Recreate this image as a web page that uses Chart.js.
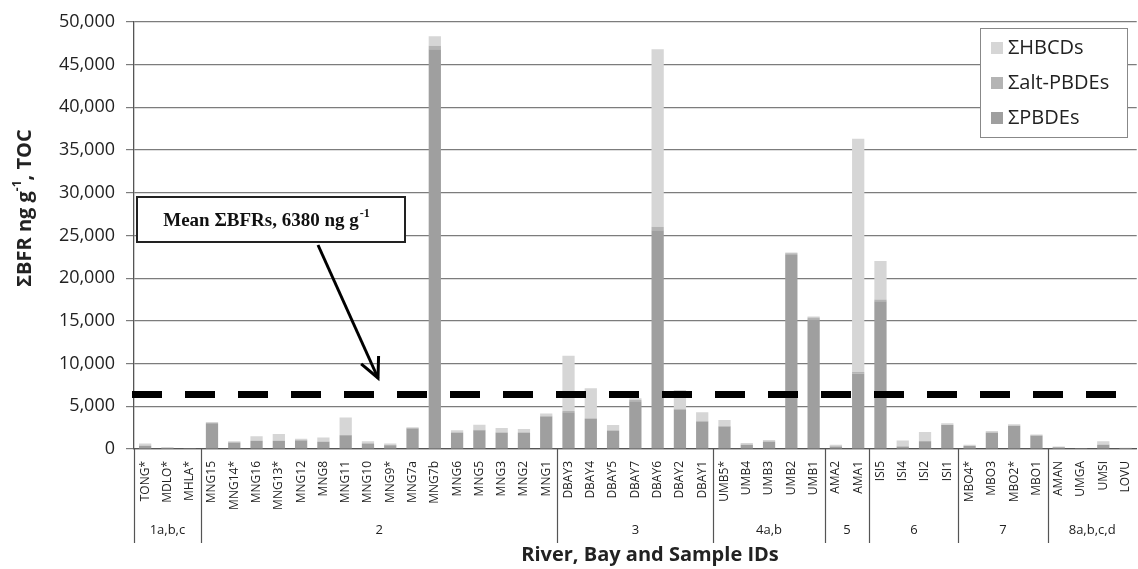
<!DOCTYPE html>
<html>
<head>
<meta charset="utf-8">
<script src="https://cdn.jsdelivr.net/npm/chart.js@4/dist/chart.umd.min.js"></script>
<style>
  html, body { margin: 0; padding: 0; background: #fff; overflow: hidden; }
  #wrap { width: 1144px; height: 569px; }
</style>
</head>
<body>
<div id="wrap"><canvas id="c" width="1144" height="569"></canvas></div>
<script>
// Sample IDs along the river / bay transects
const sampleIds = [
  'TONG*', 'MDLO*', 'MHLA*',
  'MNG15', 'MNG14*', 'MNG16', 'MNG13*', 'MNG12', 'MNG8', 'MNG11', 'MNG10', 'MNG9*',
  'MNG7a', 'MNG7b', 'MNG6', 'MNG5', 'MNG3', 'MNG2', 'MNG1',
  'DBAY3', 'DBAY4', 'DBAY5', 'DBAY7', 'DBAY6', 'DBAY2', 'DBAY1',
  'UMB5*', 'UMB4', 'UMB3', 'UMB2', 'UMB1',
  'AMA2', 'AMA1',
  'ISI5', 'ISI4', 'ISI2', 'ISI1',
  'MBO4*', 'MBO3', 'MBO2*', 'MBO1',
  'AMAN', 'UMGA', 'UMSI', 'LOVU'
];

// ΣPBDEs, ng g-1 TOC
const sumPBDEs = [
  380, 150, 80,
  3000, 750, 950, 950, 1000, 850, 1600, 650, 450,
  2400, 46800, 1900, 2200, 1900, 1900, 3800,
  4300, 3500, 2100, 5600, 25600, 4600, 3200,
  2600, 500, 850, 22700, 15200,
  300, 8800,
  17300, 300, 900, 2800,
  350, 1900, 2700, 1550,
  200, 70, 500, 100
];

// Σalt-PBDEs, ng g-1 TOC
const sumAltPBDEs = [
  20, 10, 0,
  50, 30, 50, 50, 40, 40, 50, 30, 20,
  50, 400, 50, 50, 50, 50, 100,
  150, 100, 100, 150, 400, 100, 100,
  100, 30, 50, 200, 200,
  20, 200,
  200, 20, 50, 50,
  20, 50, 50, 50,
  10, 10, 20, 10
];

// ΣHBCDs, ng g-1 TOC
const sumHBCDs = [
  250, 40, 20,
  100, 120, 500, 750, 160, 460, 2050, 220, 180,
  100, 1100, 250, 600, 500, 400, 250,
  6450, 3500, 600, 200, 20800, 2200, 1000,
  700, 170, 150, 100, 100,
  180, 27300,
  4500, 680, 1050, 150,
  130, 150, 150, 100,
  90, 20, 380, 40
];

// River / bay groups: label and index of first sample
const groupNames = ['1a,b,c', '2', '3', '4a,b', '5', '6', '7', '8a,b,c,d'];
const groupStarts = [0, 3, 19, 26, 31, 33, 37, 41];

const yTickValues = [0, 5000, 10000, 15000, 20000, 25000, 30000, 35000, 40000, 45000, 50000];
const meanBFR = 6380;

const FONT = 'Open Sans';

const decor = {
  id: 'decor',
  afterDatasetsDraw(chart) {
    const { ctx, chartArea, scales } = chart;
    const xs = scales.x, ys = scales.y;
    const n = sampleIds.length;
    const step = (chartArea.right - chartArea.left) / n;

    ctx.save();

    // mean ΣBFR line
    const ym = ys.getPixelForValue(meanBFR);
    ctx.strokeStyle = '#000';
    ctx.lineWidth = 7;
    ctx.setLineDash([30, 23]);
    ctx.beginPath();
    ctx.moveTo(chartArea.left - 2, ym);
    ctx.lineTo(chartArea.right, ym);
    ctx.stroke();
    ctx.setLineDash([]);

    // group separators below the axis
    ctx.strokeStyle = '#555';
    ctx.lineWidth = 1.2;
    groupStarts.forEach((s) => {
      const x = s === 0 ? chartArea.left : (xs.getPixelForValue(s - 1) + xs.getPixelForValue(s)) / 2;
      ctx.beginPath();
      ctx.moveTo(Math.round(x) + 0.5, chartArea.bottom);
      ctx.lineTo(Math.round(x) + 0.5, 543);
      ctx.stroke();
    });

    // group labels
    ctx.fillStyle = '#222';
    ctx.font = `13px "${FONT}"`;
    ctx.textAlign = 'center';
    ctx.textBaseline = 'middle';
    groupNames.forEach((g, i) => {
      const a = groupStarts[i];
      const b = i + 1 < groupStarts.length ? groupStarts[i + 1] : n;
      const x0 = chartArea.left + a * step;
      const x1 = chartArea.left + b * step;
      ctx.fillText(g, (x0 + x1) / 2, 530);
    });

    // x axis title
    ctx.font = `bold 20px "${FONT}"`;
    ctx.fillStyle = '#222';
    ctx.fillText('River, Bay and Sample IDs', 650, 555);

    // y axis title with superscript
    ctx.save();
    ctx.translate(25, 208);
    ctx.rotate(-Math.PI / 2);
    const mainFont = `bold 20px "${FONT}"`;
    const supFont = `bold 12px "${FONT}"`;
    const p1 = 'ΣBFR ng g', p2 = '-1', p3 = ', TOC';
    ctx.font = mainFont; const w1 = ctx.measureText(p1).width; const w3 = ctx.measureText(p3).width;
    ctx.font = supFont; const w2 = ctx.measureText(p2).width;
    let tx = -(w1 + w2 + w3) / 2;
    ctx.textAlign = 'left';
    ctx.textBaseline = 'middle';
    ctx.font = mainFont; ctx.fillText(p1, tx, 0); tx += w1;
    ctx.font = supFont; ctx.fillText(p2, tx, -7); tx += w2;
    ctx.font = mainFont; ctx.fillText(p3, tx, 0);
    ctx.restore();

    // annotation box
    ctx.fillStyle = '#fff';
    ctx.fillRect(137, 197, 268, 45);
    ctx.strokeStyle = '#222';
    ctx.lineWidth = 2;
    ctx.strokeRect(137, 197, 268, 45);
    ctx.fillStyle = '#111';
    ctx.textBaseline = 'middle';
    ctx.textAlign = 'left';
    const aMain = 'Mean ΣBFRs, ' + meanBFR + ' ng g';
    ctx.font = 'bold 19px "Liberation Serif"';
    const aw = ctx.measureText(aMain).width;
    ctx.font = 'bold 12px "Liberation Serif"';
    const asw = ctx.measureText('-1').width;
    const ax = 266 - (aw + asw) / 2;
    ctx.font = 'bold 19px "Liberation Serif"';
    ctx.fillText(aMain, ax, 221);
    ctx.font = 'bold 12px "Liberation Serif"';
    ctx.fillText('-1', ax + aw + 1, 214);

    // arrow from the box to the mean line
    const ax0 = 318, ay0 = 245, ax1 = 378, ay1 = 378;
    ctx.strokeStyle = '#000';
    ctx.lineWidth = 3;
    ctx.beginPath();
    ctx.moveTo(ax0, ay0);
    ctx.lineTo(ax1, ay1);
    ctx.stroke();
    const ang = Math.atan2(ay1 - ay0, ax1 - ax0);
    const hl = 22;
    ctx.beginPath();
    ctx.moveTo(ax1 - hl * Math.cos(ang - 0.45), ay1 - hl * Math.sin(ang - 0.45));
    ctx.lineTo(ax1, ay1);
    ctx.lineTo(ax1 - hl * Math.cos(ang + 0.45), ay1 - hl * Math.sin(ang + 0.45));
    ctx.stroke();

    // legend
    const lx = 980, ly = 28, lw = 147, lh = 109;
    ctx.fillStyle = '#fff';
    ctx.fillRect(lx, ly, lw, lh);
    ctx.strokeStyle = '#888';
    ctx.lineWidth = 1;
    ctx.strokeRect(lx + 0.5, ly + 0.5, lw, lh);
    const order = [2, 1, 0];
    ctx.font = `20px "${FONT}"`;
    ctx.textAlign = 'left';
    ctx.textBaseline = 'middle';
    order.forEach((di, k) => {
      const ds = chart.data.datasets[di];
      const cy = 48 + k * 35;
      ctx.fillStyle = ds.backgroundColor;
      ctx.fillRect(991, cy - 6, 12, 12);
      ctx.fillStyle = '#222';
      ctx.fillText(ds.label, 1008, cy);
    });

    ctx.restore();
  }
};

new Chart(document.getElementById('c'), {
  type: 'bar',
  data: {
    labels: sampleIds,
    datasets: [
      { label: 'ΣPBDEs', data: sumPBDEs, backgroundColor: '#9f9f9f' },
      { label: 'Σalt-PBDEs', data: sumAltPBDEs, backgroundColor: '#b4b4b4' },
      { label: 'ΣHBCDs', data: sumHBCDs, backgroundColor: '#d6d6d6' }
    ]
  },
  options: {
    responsive: false,
    animation: false,
    layout: { padding: { top: 20, right: 2, left: 0, bottom: 0 } },
    datasets: { bar: { categoryPercentage: 1, barPercentage: 0.55 } },
    plugins: { legend: { display: false }, tooltip: { enabled: false } },
    scales: {
      x: {
        stacked: true,
        offset: true,
        grid: { display: false },
        border: { color: '#555', width: 1.3 },
        ticks: {
          autoSkip: false, minRotation: 90, maxRotation: 90,
          font: { family: FONT, size: 12 }, color: '#222', padding: 4
        },
        afterFit(s) { s.height = 120; }
      },
      y: {
        stacked: true,
        min: 0, max: 50000,
        afterBuildTicks(s) { s.ticks = yTickValues.map(v => ({ value: v })); },
        ticks: {
          callback: v => v.toLocaleString('en-US'),
          font: { family: FONT, size: 18 }, color: '#222', padding: 11
        },
        grid: { color: '#7c7c7c', lineWidth: 1.2, tickLength: 8 },
        border: { color: '#555', width: 1.3 },
        afterFit(s) { s.width = 134; }
      }
    }
  },
  plugins: [decor]
});
</script>
</body>
</html>
